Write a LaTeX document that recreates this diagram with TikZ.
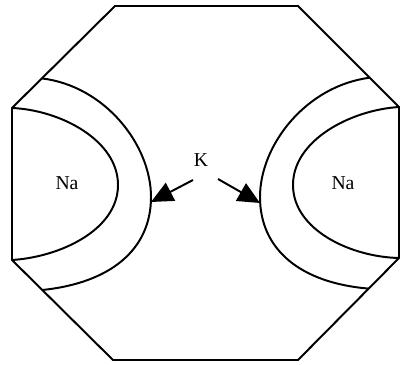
\documentclass[tikz,border=0pt]{standalone}
\usepackage{fontspec}
\setmainfont{Liberation Serif}
\usepackage{tikz}
\usetikzlibrary{arrows.meta,calc}

\begin{document}
\begin{tikzpicture}[x=0.025cm, y=-0.025cm, line width=1.4pt,
    every node/.style={font=\fontsize{14}{16}\selectfont},
    pointer/.style={-{Triangle[length=5.5mm, width=5mm]}, line width=1.4pt}]
    \useasboundingbox (0,0) rectangle (401,365);
    % octagon corners
    \coordinate (tl) at (115,6);
    \coordinate (tr) at (298,6);
    \coordinate (rt) at (399,107);
    \coordinate (rb) at (399,258);
    \coordinate (br) at (298,360);
    \coordinate (bl) at (113,360);
    \coordinate (lb) at (12,260);
    \coordinate (lt) at (12,108);
    \draw (tl) -- (tr) -- (rt) -- (rb) -- (br) -- (bl) -- (lb) -- (lt) -- cycle;

    % left shells
    \coordinate (lk1) at ($(lt)!0.29!(tl)$);
    \coordinate (lk2) at ($(lb)!0.3!(bl)$);
    \draw (lt) .. controls (60,110) and (118,140) .. (118,185) .. controls (118,230) and (60,257) .. (lb);
    \draw (lk1) .. controls (105,86) and (151,145) .. (151,197) .. controls (151,250) and (110,283) .. (lk2);

    % right shells
    \coordinate (rk1) at ($(rt)!0.29!(tr)$);
    \coordinate (rk2) at ($(rb)!0.3!(br)$);
    \draw (rt) .. controls (351,110) and (293,140) .. (293,185) .. controls (293,230) and (351,257) .. (rb);
    \draw (rk1) .. controls (306,86) and (260,145) .. (260,197) .. controls (260,250) and (301,283) .. (rk2);

    \node (naL) at (67,183) {Na};
    \node (naR) at (343,183) {Na};
    \node (K) at (201,160) {K};

    \coordinate (ltail) at (193,180);
    \coordinate (ltip) at (151,202);
    \coordinate (rtail) at (218,179);
    \coordinate (rtip) at (260,203);
    \draw[pointer] (ltail) -- (ltip);
    \draw[pointer] (rtail) -- (rtip);
\end{tikzpicture}
\end{document}
